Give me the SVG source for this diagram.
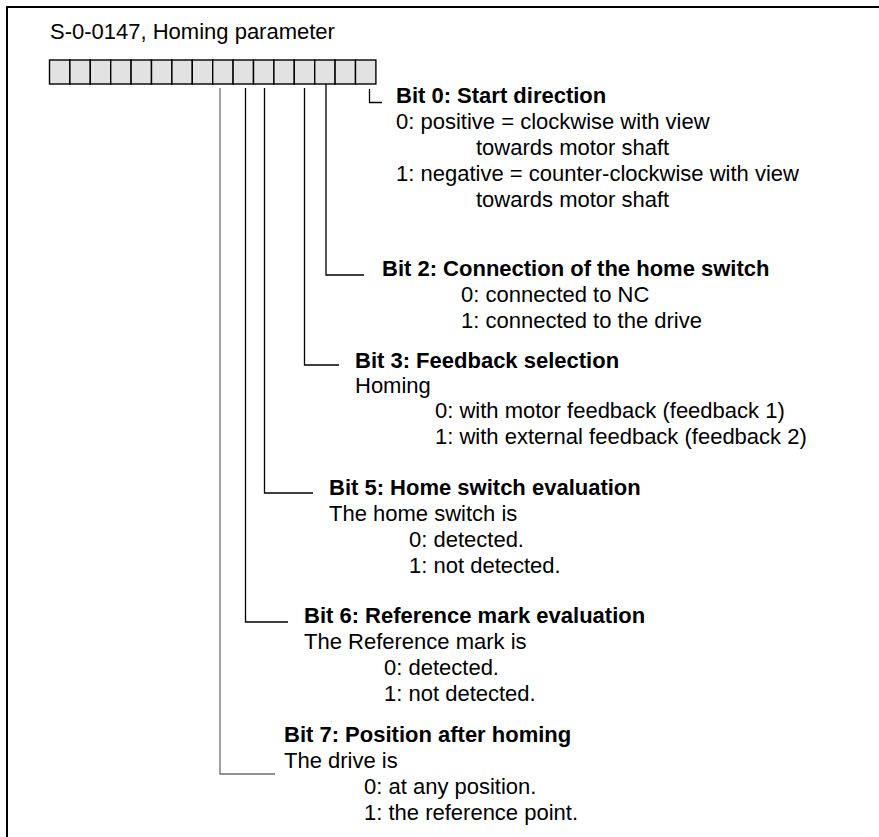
<svg xmlns="http://www.w3.org/2000/svg" width="879" height="837" viewBox="0 0 879 837">
  <style>
    text { font-family: "Liberation Sans", Arial, sans-serif; font-size: 22px; fill: #000; }
    .h { font-weight: bold; }
    .cell { fill: #e2e2e2; stroke: #000; stroke-width: 1.4; }
    .lead { fill: none; stroke: #000; stroke-width: 1.3; }
    .lead.grey { stroke: #6e6e6e; }
    .frame { fill: none; stroke: #000; stroke-width: 2; }
  </style>

  <rect width="879" height="837" fill="#fff"/>
  <path class="frame" d="M7,837 V7 H879"/>

  <g id="title">
    <text x="50" y="39">S-0-0147, Homing parameter</text>
  </g>

  <!-- 16-bit register, bit 15 on the left, bit 0 on the right -->
  <g id="register">
    <rect class="cell" x="49.5" y="60" width="20.4" height="24"/>
    <rect class="cell" x="69.9" y="60" width="20.4" height="24"/>
    <rect class="cell" x="90.3" y="60" width="20.4" height="24"/>
    <rect class="cell" x="110.7" y="60" width="20.4" height="24"/>
    <rect class="cell" x="131.1" y="60" width="20.4" height="24"/>
    <rect class="cell" x="151.5" y="60" width="20.4" height="24"/>
    <rect class="cell" x="171.9" y="60" width="20.4" height="24"/>
    <rect class="cell" x="192.3" y="60" width="20.4" height="24"/>
    <rect class="cell" x="212.7" y="60" width="20.4" height="24"/>
    <rect class="cell" x="233.1" y="60" width="20.4" height="24"/>
    <rect class="cell" x="253.5" y="60" width="20.4" height="24"/>
    <rect class="cell" x="273.9" y="60" width="20.4" height="24"/>
    <rect class="cell" x="294.3" y="60" width="20.4" height="24"/>
    <rect class="cell" x="314.7" y="60" width="20.4" height="24"/>
    <rect class="cell" x="335.1" y="60" width="20.4" height="24"/>
    <rect class="cell" x="355.5" y="60" width="20.4" height="24"/>
  </g>

  <!-- leader lines from bit cells to their descriptions -->
  <g id="connectors">
    <path class="lead" d="M369.5,89 V102.5 H382"/>
    <path class="lead" d="M326,84 V275 H364"/>
    <path class="lead" d="M304.5,88 V365 H339"/>
    <path class="lead" d="M264.5,88 V493 H313"/>
    <path class="lead" d="M245.5,88 V622 H288"/>
    <path class="lead grey" d="M220,88 V774 H275"/>
  </g>

  <g id="bit0">
    <text class="h" x="396" y="103">Bit 0: Start direction</text>
    <text x="396" y="129">0: positive = clockwise with view</text>
    <text x="476" y="155">towards motor shaft</text>
    <text x="396" y="181">1: negative = counter-clockwise with view</text>
    <text x="476" y="207">towards motor shaft</text>
  </g>

  <g id="bit2">
    <text class="h" x="382" y="276">Bit 2: Connection of the home switch</text>
    <text x="461" y="302">0: connected to NC</text>
    <text x="461" y="328">1: connected to the drive</text>
  </g>

  <g id="bit3">
    <text class="h" x="355" y="368">Bit 3: Feedback selection</text>
    <text x="355" y="393">Homing</text>
    <text x="435" y="418">0: with motor feedback (feedback 1)</text>
    <text x="435" y="444">1: with external feedback (feedback 2)</text>
  </g>

  <g id="bit5">
    <text class="h" x="329" y="495">Bit 5: Home switch evaluation</text>
    <text x="329" y="521">The home switch is</text>
    <text x="409" y="547">0: detected.</text>
    <text x="409" y="573">1: not detected.</text>
  </g>

  <g id="bit6">
    <text class="h" x="304" y="623">Bit 6: Reference mark evaluation</text>
    <text x="304" y="649">The Reference mark is</text>
    <text x="384" y="675">0: detected.</text>
    <text x="384" y="701">1: not detected.</text>
  </g>

  <g id="bit7">
    <text class="h" x="284" y="742">Bit 7: Position after homing</text>
    <text x="284" y="768">The drive is</text>
    <text x="364" y="794">0: at any position.</text>
    <text x="364" y="820">1: the reference point.</text>
  </g>
</svg>
